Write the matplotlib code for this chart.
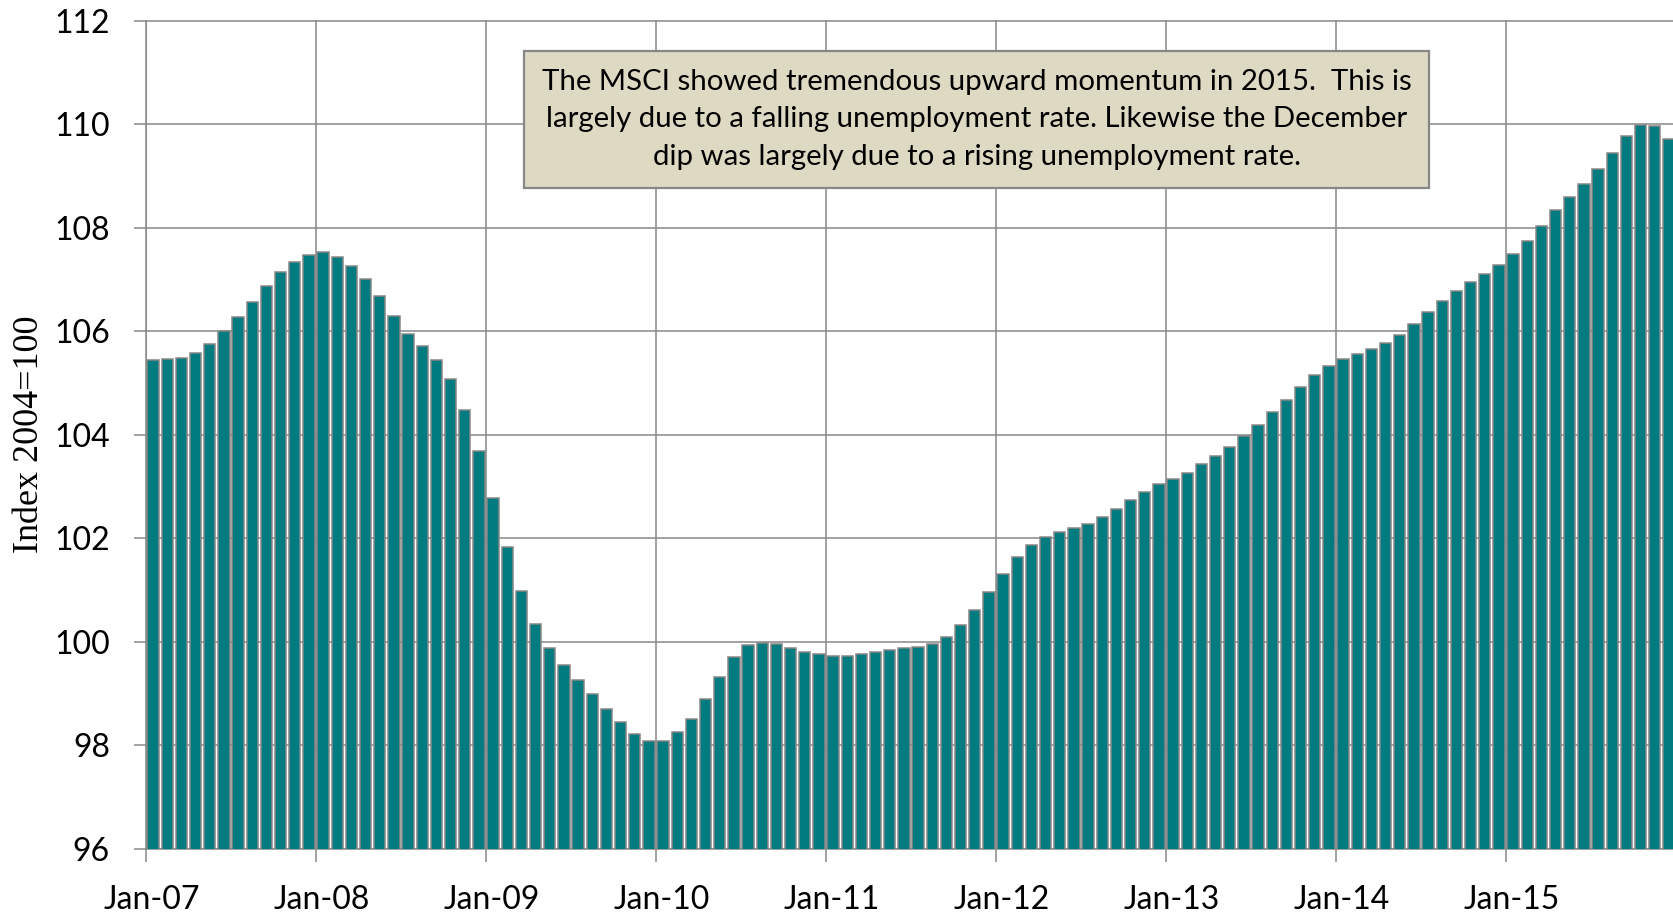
import matplotlib
matplotlib.use("Agg")
import matplotlib.pyplot as plt
import matplotlib.transforms as mtransforms
import numpy as np

# monthly MSCI index, Jan-07 .. Dec-15 (2004=100)
idx_2007 = [105.44, 105.46, 105.49, 105.58, 105.76, 106.00, 106.28, 106.57, 106.87, 107.14, 107.34, 107.47]
idx_2008 = [107.52, 107.44, 107.26, 107.01, 106.67, 106.29, 105.95, 105.72, 105.45, 105.08, 104.48, 103.68]
idx_2009 = [102.77, 101.83, 100.99, 100.34, 99.89, 99.55, 99.27, 98.99, 98.71, 98.45, 98.22, 98.08]
idx_2010 = [98.08, 98.25, 98.52, 98.90, 99.32, 99.71, 99.93, 99.98, 99.95, 99.88, 99.81, 99.76]
idx_2011 = [99.73, 99.73, 99.77, 99.81, 99.85, 99.88, 99.91, 99.96, 100.10, 100.32, 100.61, 100.96]
idx_2012 = [101.32, 101.63, 101.88, 102.03, 102.12, 102.19, 102.28, 102.42, 102.57, 102.74, 102.89, 103.04]
idx_2013 = [103.15, 103.27, 103.43, 103.59, 103.77, 103.97, 104.19, 104.43, 104.68, 104.93, 105.15, 105.33]
idx_2014 = [105.47, 105.56, 105.66, 105.77, 105.93, 106.13, 106.37, 106.59, 106.78, 106.95, 107.11, 107.28]
idx_2015 = [107.49, 107.74, 108.04, 108.35, 108.59, 108.84, 109.14, 109.45, 109.77, 109.99, 109.96, 109.71]

year_labels = ['Jan-07', 'Jan-08', 'Jan-09', 'Jan-10', 'Jan-11', 'Jan-12', 'Jan-13', 'Jan-14', 'Jan-15']
y_ticks = [96, 98, 100, 102, 104, 106, 108, 110, 112]

note = ("The MSCI showed tremendous upward momentum in 2015.  This is\n"
        "largely due to a falling unemployment rate. Likewise the December\n"
        "dip was largely due to a rising unemployment rate.")

values = idx_2007 + idx_2008 + idx_2009 + idx_2010 + idx_2011 + idx_2012 + idx_2013 + idx_2014 + idx_2015
x = np.arange(len(values)) + 0.5

grey = '#878787'
teal = '#007B80'

fig = plt.figure(figsize=(16.73, 9.13), dpi=100)
ax = fig.add_axes([146 / 1673, 1 - 849 / 913, (1676 - 146) / 1673, (849 - 20.5) / 913])

ax.bar(x, values, width=0.8, color=teal, edgecolor=grey, linewidth=1.1, zorder=3)

ax.set_ylim(96, 112)
ax.set_xlim(0, 108)
ax.set_yticks(y_ticks)
ax.set_xticks(np.arange(0, 108, 12))
ax.set_xticklabels(year_labels)

ax.grid(True, color=grey, linewidth=1.1, zorder=0)
ax.set_axisbelow(True)
for s in ['top', 'right']:
    ax.spines[s].set_visible(False)
for s in ['left', 'bottom']:
    ax.spines[s].set_color(grey)
    ax.spines[s].set_linewidth(1.1)

ax.tick_params(axis='both', direction='out', length=9, width=1.1, color=grey,
               labelsize=23, pad=17)
for lab in ax.get_xticklabels() + ax.get_yticklabels():
    lab.set_fontfamily('Lato')

# Excel puts the date labels a little right of the tick
offset = mtransforms.ScaledTranslation(6 / 100, 0, fig.dpi_scale_trans)
for lab in ax.get_xticklabels():
    lab.set_transform(lab.get_transform() + offset)

fig.text(29 / 1673, 1 - 434 / 913, 'Index 2004=100', rotation=90, ha='center', va='center',
         fontsize=26, family='Liberation Serif')

ax.text(58.65, 110.09, note, ha='center', va='center', multialignment='center',
        fontsize=21.2, family='Lato', linespacing=1.56, zorder=5,
        bbox=dict(boxstyle='square,pad=0.6', facecolor='#DDD9C3', edgecolor=grey, linewidth=1.6))

fig.savefig('out.png', dpi=100)
